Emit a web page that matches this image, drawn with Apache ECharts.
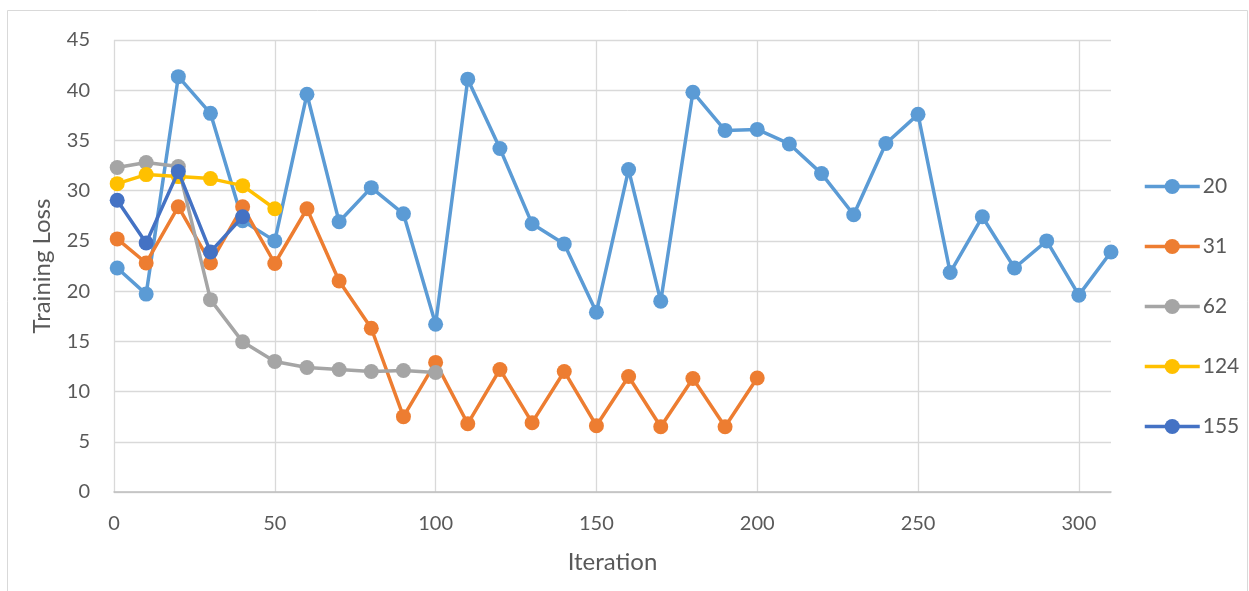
<!DOCTYPE html>
<html>
<head>
<meta charset="utf-8">
<script src="https://cdn.jsdelivr.net/npm/echarts@6/dist/echarts.min.js"></script>
<style>
  html, body { margin: 0; padding: 0; background: #fff; }
  #chart { width: 1249px; height: 591px; }
</style>
</head>
<body>
<div id="chart"></div>
<script>
// Iteration numbers at which each run was logged
const iter20 = [1, 10, 20, 30, 40, 50, 60, 70, 80, 90, 100, 110, 120, 130, 140, 150, 160, 170, 180, 190, 200, 210, 220, 230, 240, 250, 260, 270, 280, 290, 300, 310];
const iter31 = [1, 10, 20, 30, 40, 50, 60, 70, 80, 90, 100, 110, 120, 130, 140, 150, 160, 170, 180, 190, 200];
const iter62 = [1, 10, 20, 30, 40, 50, 60, 70, 80, 90, 100];
const iter124 = [1, 10, 20, 30, 40, 50];
const iter155 = [1, 10, 20, 30, 40];

// Training loss per run
const loss20 = [22.3, 19.7, 41.35, 37.7, 27.0, 25.0, 39.6, 26.9, 30.3, 27.7, 16.7, 41.1, 34.2, 26.7, 24.7, 17.9, 32.1, 19.0, 39.8, 36.0, 36.1, 34.65, 31.7, 27.6, 34.7, 37.6, 21.85, 27.4, 22.3, 25.0, 19.6, 23.9];
const loss31 = [25.2, 22.8, 28.4, 22.8, 28.4, 22.75, 28.2, 21.0, 16.3, 7.5, 12.9, 6.8, 12.2, 6.9, 12.0, 6.6, 11.5, 6.5, 11.3, 6.5, 11.35];
const loss62 = [32.3, 32.8, 32.4, 19.15, 14.95, 13.0, 12.4, 12.2, 12.0, 12.1, 11.9];
const loss124 = [30.7, 31.6, 31.4, 31.2, 30.5, 28.2];
const loss155 = [29.05, 24.8, 31.9, 23.9, 27.4];

const seriesNames = ['20', '31', '62', '124', '155'];
const seriesColors = ['#5B9BD5', '#ED7D31', '#A5A5A5', '#FFC000', '#4472C4'];
const iterations = [iter20, iter31, iter62, iter124, iter155];
const losses = [loss20, loss31, loss62, loss124, loss155];

const FONT = 'Lato, "Open Sans", sans-serif';
const TEXT = '#595959';

const series = seriesNames.map((name, i) => ({
  name: name,
  type: 'line',
  data: iterations[i].map((x, k) => [x, losses[i][k]]),
  symbol: 'circle',
  symbolSize: 15,
  showSymbol: true,
  lineStyle: { color: seriesColors[i], width: 3.5 },
  itemStyle: { color: seriesColors[i] },
  emphasis: { disabled: true },
  z: 2 + i
}));

const chart = echarts.init(document.getElementById('chart'), null, { renderer: 'canvas' });
chart.setOption({
  animation: false,
  backgroundColor: '#ffffff',
  textStyle: { fontFamily: FONT },
  graphic: [{
    type: 'rect',
    shape: { x: 7.5, y: 10.5, width: 1240, height: 600 },
    style: { fill: 'none', stroke: '#D9D9D9', lineWidth: 1 },
    silent: true,
    z: -10
  }],
  grid: { left: 114, right: 138, top: 40, bottom: 99, containLabel: false },
  xAxis: {
    type: 'value',
    min: 0,
    max: 310,
    interval: 50,
    name: 'Iteration',
    nameLocation: 'middle',
    nameGap: 58,
    nameTextStyle: { color: TEXT, fontSize: 24, fontFamily: FONT },
    axisLine: { show: true, lineStyle: { color: '#BFBFBF', width: 1.5 } },
    axisTick: { show: false },
    axisLabel: { color: TEXT, fontSize: 20, fontFamily: FONT, margin: 22, showMaxLabel: false },
    splitLine: { show: true, showMaxLine: false, lineStyle: { color: '#D9D9D9', width: 1.3 } }
  },
  yAxis: {
    type: 'value',
    min: 0,
    max: 45,
    interval: 5,
    name: 'Training Loss',
    nameLocation: 'middle',
    nameGap: 60,
    nameTextStyle: { color: TEXT, fontSize: 24, fontFamily: FONT },
    axisLine: { show: false },
    axisTick: { show: false },
    axisLabel: { color: TEXT, fontSize: 20, fontFamily: FONT, margin: 24 },
    splitLine: { show: true, lineStyle: { color: '#D9D9D9', width: 1.3 } }
  },
  legend: {
    orient: 'vertical',
    left: 1138,
    top: 171,
    itemWidth: 55,
    itemHeight: 19,
    itemGap: 39,
    selectedMode: false,
    data: seriesNames,
    lineStyle: { width: 3.5 },
    textStyle: { color: TEXT, fontSize: 21, fontFamily: FONT, lineHeight: 19, padding: [0, 0, 0, -2] }
  },
  series: series
});
</script>
</body>
</html>
